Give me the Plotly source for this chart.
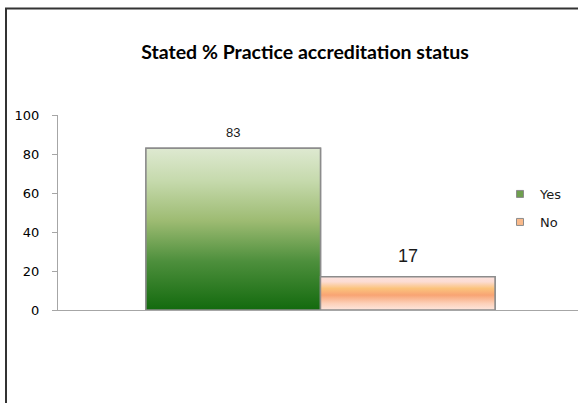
import plotly.graph_objects as go

# ---- data ----
categories = ["Yes", "No"]
values = [83, 17]
legend_colors = ["#6f9f4f", "#f9b98a"]
gradients = [
    [[0.0, "#136a0e"], [0.3, "#4d8f3c"], [0.55, "#9dbb72"], [0.8, "#c6daad"], [1.0, "#dee9d1"]],
    [[0.0, "#fde6de"], [0.2, "#fcd0b8"], [0.45, "#f8a474"], [0.65, "#fbc37c"], [0.85, "#fcdcd2"], [1.0, "#fde3de"]],
]
label_sizes = [13, 18]
title_text = "Stated % Practice accreditation status"
yticks = [0, 20, 40, 60, 80, 100]

BAR_W = 0.3325
offsets = [-BAR_W, 0.0]
OUTLINE = "#8c8c8c"
AXIS = "#a6a6a6"

W, H = 578, 403
ML, MR, MT, MB = 58, 0, 115, 93
PW, PH = W - ML - MR, H - MT - MB

fig = go.Figure()

for i, (cat, v) in enumerate(zip(categories, values)):
    fig.add_trace(go.Bar(
        x=[0], y=[v], width=[BAR_W], offset=offsets[i],
        marker=dict(color=legend_colors[i], line=dict(color=OUTLINE, width=1.5)),
        showlegend=False, hoverinfo="skip", name=cat,
    ))

for i, (cat, v) in enumerate(zip(categories, values)):
    x0 = offsets[i]
    x1 = offsets[i] + BAR_W
    fig.add_trace(go.Scatter(
        x=[x0, x1, x1, x0, x0], y=[0, 0, v, v, 0],
        mode="lines", fill="toself",
        fillgradient=dict(type="vertical", colorscale=gradients[i]),
        line=dict(color=OUTLINE, width=1.5),
        showlegend=False, hoverinfo="skip",
    ))
    fig.add_annotation(
        x=x0 + BAR_W / 2, y=v, text=str(v), showarrow=False,
        yanchor="bottom", yshift=6 if i == 0 else 9,
        font=dict(family="Liberation Sans", size=label_sizes[i], color="#1a1a1a"),
    )

legend_names = ["legend", "legend2"]
for i, cat in enumerate(categories):
    fig.add_trace(go.Scatter(
        x=[None], y=[None], mode="markers", name=cat,
        marker=dict(symbol="square", size=7, color=legend_colors[i],
                    line=dict(color="#8c8c8c", width=1)),
        legend=legend_names[i],
    ))

leg_font = dict(family="DejaVu Sans", size=13, color="#1a1a1a")
leg_x = (500 - ML) / PW
fig.update_layout(
    width=W, height=H,
    margin=dict(l=ML, r=MR, t=MT, b=MB),
    paper_bgcolor="white", plot_bgcolor="white",
    barmode="overlay",
    title=dict(text="<b>" + title_text + "</b>", x=305 / W, xanchor="center",
               y=1 - 52 / H, yanchor="middle",
               font=dict(family="Lato", size=19.5, color="#000000")),
    xaxis=dict(range=[-0.5, 0.4905], showticklabels=False, ticks="",
               showgrid=False, zeroline=False, showline=True,
               linecolor=AXIS, linewidth=1),
    yaxis=dict(range=[0, 100], tickvals=yticks, ticks="outside", ticklen=5,
               tickcolor=AXIS, showgrid=False, zeroline=False, showline=True,
               linecolor=AXIS, linewidth=1, ticklabelstandoff=10,
               tickfont=dict(family="DejaVu Sans", size=13, color="#000000")),
    legend=dict(x=leg_x, xanchor="left", y=(310 - 194) / PH, yanchor="middle",
                font=leg_font, bgcolor="rgba(0,0,0,0)"),
    legend2=dict(x=leg_x, xanchor="left", y=(310 - 222) / PH, yanchor="middle",
                 font=leg_font, bgcolor="rgba(0,0,0,0)"),
    shapes=[dict(type="rect", xref="paper", yref="paper",
                 x0=(6 - ML) / PW, x1=1.3, y0=-1.0, y1=(310 - 8.5) / PH,
                 line=dict(color="#333333", width=2), layer="above")],
)

fig.write_html("out.html", config={"displayModeBar": False},
               post_script="document.body.style.margin='0';document.body.style.overflow='hidden';")
